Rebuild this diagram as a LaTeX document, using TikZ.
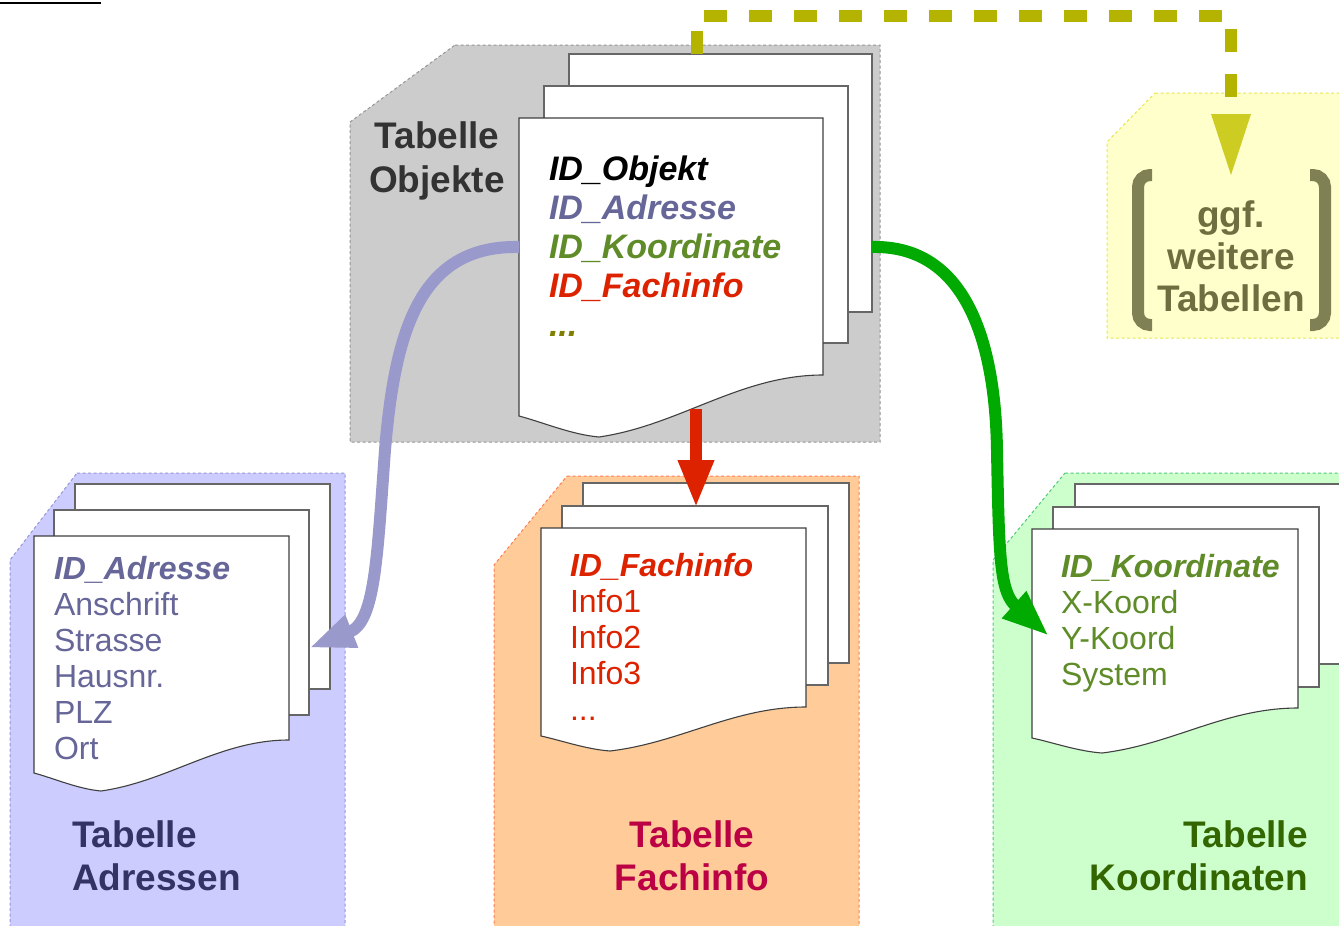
\documentclass[tikz,border=0pt]{standalone}
\usepackage{fontspec}
\setmainfont{Liberation Sans}
\usetikzlibrary{arrows.meta}
\definecolor{gbg}{RGB}{204,204,204}\definecolor{gbd}{RGB}{150,150,150}
\definecolor{bbg}{RGB}{204,204,255}\definecolor{bbd}{RGB}{150,150,215}
\definecolor{pbg}{RGB}{255,204,153}\definecolor{pbd}{RGB}{255,125,85}
\definecolor{lbg}{RGB}{204,255,204}\definecolor{lbd}{RGB}{80,200,120}
\definecolor{ybg}{RGB}{255,255,204}\definecolor{ybd}{RGB}{230,230,80}
\definecolor{cobj}{RGB}{51,51,51}
\definecolor{cadr}{RGB}{102,102,153}\definecolor{tadr}{RGB}{51,51,102}
\definecolor{cfach}{RGB}{221,34,0}\definecolor{tfach}{RGB}{187,0,68}
\definecolor{ckoo}{RGB}{95,140,40}\definecolor{tkoo}{RGB}{51,102,0}
\definecolor{cdots}{RGB}{128,128,0}
\definecolor{tyel}{RGB}{110,110,65}\definecolor{brk}{RGB}{128,128,85}
\definecolor{yline}{RGB}{180,180,0}\definecolor{yhead}{RGB}{204,204,34}
\definecolor{aBlue}{RGB}{153,153,204}\definecolor{aGreen}{RGB}{0,170,0}
\newcommand\docback[4]{\filldraw[backpg] (#1,#2) rectangle (#3,#4);}
\newcommand\docfront[7]{\filldraw[frontpg] (#1,#2) -- (#3,#2) -- (#3,#4)
  .. controls ({#6+0.63*(#3-#6)},#4) and ({#6+0.36*(#3-#6)},{#7-0.19*(#7-#4)}) .. (#6,#7)
  .. controls ({#6-0.35*(#6-#1)},{#7-0.12*(#7-#5)}) and ({#1+0.3*(#6-#1)},{#5+0.3*(#7-#5)}) .. (#1,#5) -- cycle;}
\begin{document}
\begin{tikzpicture}[x=1pt,y=-1pt,
  grp/.style={dash pattern=on 3pt off 2.5pt,line width=1pt},
  backpg/.style={fill=white,draw=black!60,line width=1.4pt},
  frontpg/.style={fill=white,draw=black!75,line width=1.1pt},
  txt/.style={inner sep=0pt,outer sep=0pt,anchor=base west},
  big/.style={font=\fontsize{37}{44}\selectfont\bfseries},
  objf/.style={font=\fontsize{34}{40}\selectfont\bfseries\itshape},
  idf/.style={font=\fontsize{32}{36}\selectfont\bfseries\itshape},
  itf/.style={font=\fontsize{32}{36}\selectfont},
  fatarrow/.style={line width=12pt}]
\useasboundingbox (0,0) rectangle (1339,926);
\clip (0,0) rectangle (1339,926);
% top-left fragment
\draw[line width=1.6pt] (0,3) -- (101,3);
% group backgrounds
\filldraw[grp,fill=gbg,draw=gbd] (455,45) -- (880,45) -- (880,442) -- (350,442) -- (350,122) -- cycle;
\filldraw[grp,fill=bbg,draw=bbd] (77,473) -- (345,473) -- (345,935) -- (10,935) -- (10,560) -- cycle;
\filldraw[grp,fill=pbg,draw=pbd] (567,476) -- (859,476) -- (859,935) -- (494,935) -- (494,565) -- cycle;
\filldraw[grp,fill=lbg,draw=lbd] (1065,473) -- (1350,473) -- (1350,935) -- (993,935) -- (993,560) -- cycle;
\filldraw[grp,fill=ybg,draw=ybd] (1155,93) -- (1350,93) -- (1350,338) -- (1107,338) -- (1107,142) -- cycle;
% pages
\docback{569}{54}{872}{312}\docback{544}{86}{848}{343}
\docfront{519}{118}{823}{375}{416}{599}{437}
\docback{75}{484}{330}{689}\docback{54}{510}{309}{715}
\docfront{34}{536}{289}{740}{773}{101}{791}
\docback{583}{483}{849}{663}\docback{562}{506}{828}{685}
\docfront{541}{528}{806}{707}{736}{610}{751}
\docback{1075}{484}{1341}{664}\docback{1053}{507}{1319}{687}
\docfront{1032}{529}{1298}{708}{738}{1102}{753}
% Objekte
\node[big,text=cobj,inner sep=0pt,anchor=base] (toA) at (437,148) {Tabelle};
\node[big,text=cobj,inner sep=0pt,anchor=base] (toB) at (437,192) {Objekte};
\node[txt,objf,text=black] (o1) at (549,180) {ID\_Objekt};
\node[txt,objf,text=cadr] (o2) at (549,219) {ID\_Adresse};
\node[txt,objf,text=ckoo] (o3) at (549,258) {ID\_Koordinate};
\node[txt,objf,text=cfach] (o4) at (549,297) {ID\_Fachinfo};
\node[txt,objf,text=cdots] (o5) at (549,336) {...};
% Adressen
\node[txt,idf,text=cadr] (a1) at (54,579) {ID\_Adresse};
\node[txt,itf,text=cadr] (a2) at (54,615) {Anschrift};
\node[txt,itf,text=cadr] (a3) at (54,651) {Strasse};
\node[txt,itf,text=cadr] (a4) at (54,687) {Hausnr.};
\node[txt,itf,text=cadr] (a5) at (54,723) {PLZ};
\node[txt,itf,text=cadr] (a6) at (54,759) {Ort};
\node[txt,big,text=tadr] (taA) at (72,847) {Tabelle};
\node[txt,big,text=tadr] (taB) at (72,890) {Adressen};
% Fachinfo
\node[txt,idf,text=cfach] (f1) at (570,576) {ID\_Fachinfo};
\node[txt,itf,text=cfach] (f2) at (570,612) {Info1};
\node[txt,itf,text=cfach] (f3) at (570,648) {Info2};
\node[txt,itf,text=cfach] (f4) at (570,684) {Info3};
\node[txt,itf,text=cfach] (f5) at (570,720) {...};
\node[big,text=tfach,inner sep=0pt,anchor=base] (tfA) at (692,847) {Tabelle};
\node[big,text=tfach,inner sep=0pt,anchor=base] (tfB) at (692,890) {Fachinfo};
% Koordinaten
\node[txt,idf,text=ckoo] (k1) at (1061,577) {ID\_Koordinate};
\node[txt,itf,text=ckoo] (k2) at (1061,613) {X-Koord};
\node[txt,itf,text=ckoo] (k3) at (1061,649) {Y-Koord};
\node[txt,itf,text=ckoo] (k4) at (1061,685) {System};
\node[big,text=tkoo,inner sep=0pt,anchor=base east] (tkA) at (1308,847) {Tabelle};
\node[big,text=tkoo,inner sep=0pt,anchor=base east] (tkB) at (1308,890) {Koordinaten};
% further tables
\draw[brk,line width=12pt,rounded corners=12pt] (1152,175) -- (1138,175) -- (1138,325) -- (1152,325);
\draw[brk,line width=12pt,rounded corners=12pt] (1310,175) -- (1325,175) -- (1325,325) -- (1310,325);
\node[big,text=tyel,inner sep=0pt,anchor=base] (ty1) at (1231,227) {ggf.};
\node[big,text=tyel,inner sep=0pt,anchor=base] (ty2) at (1231,269) {weitere};
\node[big,text=tyel,inner sep=0pt,anchor=base] (ty3) at (1231,311) {Tabellen};
% connector coordinates
\coordinate (yelS) at (697,54);
\coordinate (yelC) at (1231,16);
\coordinate (yelB) at (1231,114);
\coordinate (yelT) at (1231,175);
\coordinate (objL) at (519,247);
\coordinate (adrT) at (309,648);
\coordinate (objR) at (872,247);
\coordinate (kooT) at (1049,636);
\coordinate (objB) at (696,409);
\coordinate (fachT) at (696,508);
% connectors
\draw[yline,line width=12pt,dash pattern=on 23pt off 22pt] (yelS) |- (yelC) -- (yelB);
\fill[yhead] (1211,114) -- (1251,114) -- (yelT) -- cycle;
\draw[aBlue,fatarrow,-{Triangle[length=46pt,width=32pt]}] (objL) .. controls (420,245) and (395,330) .. (385,450) .. controls (377,560) and (375,622) .. (adrT);
\draw[aGreen,fatarrow,-{Triangle[length=47pt,width=33pt]}] (objR) .. controls (960,245) and (995,330) .. (997,450) .. controls (999,560) and (1000,592) .. (kooT);
\draw[cfach,fatarrow,-{Triangle[length=48pt,width=33pt]}] (objB) -- (fachT);
\end{tikzpicture}
\end{document}
